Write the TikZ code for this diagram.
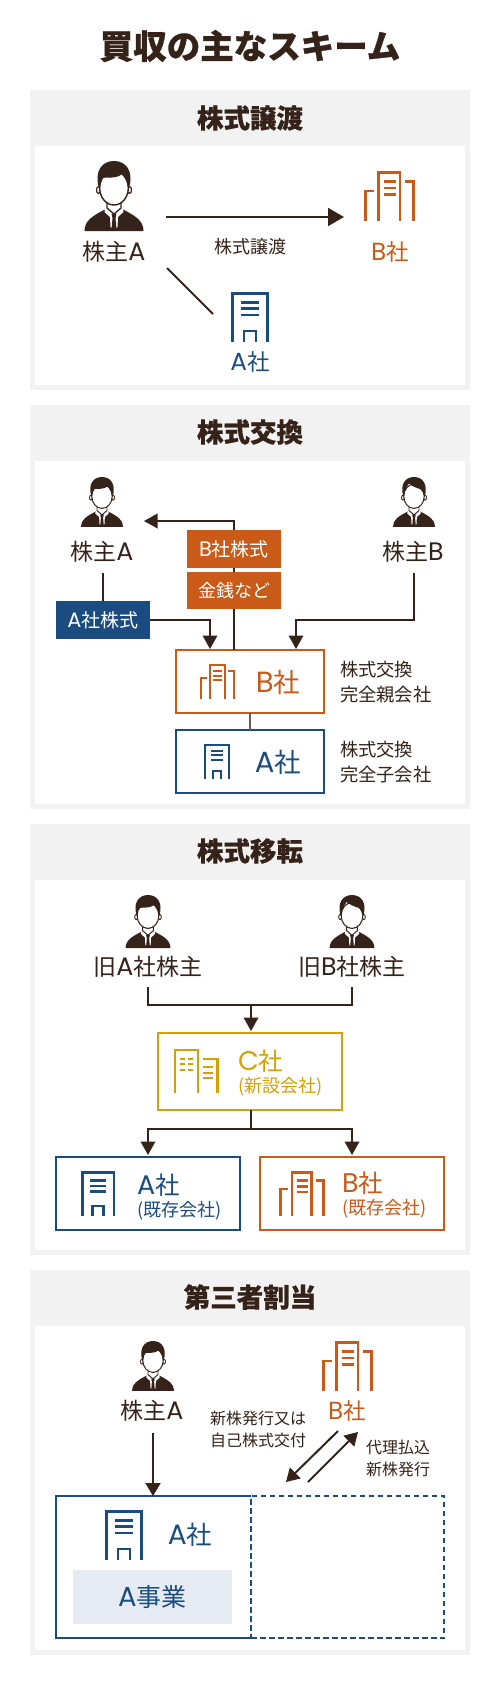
\documentclass[tikz,border=0pt]{standalone}
\usepackage{fontspec}
\setmainfont{Noto Sans CJK JP}
\newfontfamily\latf[Scale=1.1]{Poppins}
\usetikzlibrary{arrows.meta,calc}
\definecolor{ink}{HTML}{35231A}
\definecolor{orangeC}{HTML}{C95A17}
\definecolor{blueC}{HTML}{1B4C80}
\definecolor{goldC}{HTML}{D6A100}
\definecolor{panelG}{HTML}{F2F2F2}
\definecolor{paleB}{HTML}{E6EAF2}
\newcommand\fz[1]{\fontsize{#1}{#1}\selectfont}
\newcommand\hvy{\addfontfeatures{FakeBold=0.5}\bfseries}
\newcommand\hvyT{\addfontfeatures{FakeBold=0.8}\bfseries}
\newcommand\LL[1]{{\latf #1}}
\newcommand\twolines[2]{\fontsize{24.5}{24.5}\selectfont #1\\[3.6pt]\fontsize{18}{18}\selectfont #2}
\tikzset{
  ctxt/.style={inner sep=0pt,outer sep=0pt,text=#1},
  frame/.style={draw=#1,line width=2pt,fill=white,inner sep=0pt,outer sep=0pt},
  chip/.style={fill=#1,text=white,inner sep=0pt,outer sep=0pt},
  conn/.style={draw=ink,line width=2pt},
  bigarrow/.style={conn,-{Triangle[length=16pt,width=18pt]}},
  arrowS/.style={conn,-{Triangle[length=13.5pt,width=14.5pt]}},
  thinarrow/.style={conn,-{Triangle[length=13pt,width=15pt]}},
}
% person icon: x (centre), y (top), scale, hair variant 0/1
\newcommand\personicon[4]{%
\begin{scope}[shift={(#1,#2)},x=#3pt,y=-#3pt]
 \fill[ink] (-29.5,70) .. controls (-29.5,60) and (-22,55) .. (-8,48) -- (8,48) .. controls (22,55) and (29.5,60) .. (29.5,70) -- cycle;
 \fill[white] (-8,44) -- (8,44) -- (9.5,51) -- (4,56) -- (3.5,66) -- (0,68) -- (-3.5,66) -- (-4,56) -- (-9.5,51) -- cycle;
 \fill[ink] (-2.5,52.5) -- (2.5,52.5) -- (1.5,57) -- (2.4,67) -- (0,70) -- (-2.4,67) -- (-1.5,57) -- cycle;
 \draw[ink,line width={1.3pt*#3}] (-7,40) -- (-7,47) -- (0,53) -- (7,47) -- (7,40);
 \draw[ink,fill=white,line width={1.2pt*#3}] (-15.5,29) ellipse[x radius=2,y radius=3.4];
 \draw[ink,fill=white,line width={1.2pt*#3}] (15.5,29) ellipse[x radius=2,y radius=3.4];
 \draw[ink,fill=white,line width={1.4pt*#3}] (0,27) ellipse[x radius=14.3,y radius=17];
 \ifnum#4=0
 \fill[ink] (-15,27) .. controls (-20,10) and (-12,0) .. (0,0) .. controls (12,0) and (20,10) .. (15,27) -- (14,26) .. controls (13,20) and (11,16) .. (8,13) .. controls (3,18) and (-8,16) .. (-11,17) .. controls (-13,19) and (-14,23) .. (-14,26) -- cycle;
 \else
 \fill[ink] (-15,27) .. controls (-20,10) and (-12,0) .. (0,0) .. controls (12,0) and (20,10) .. (15,27) -- (14,26) .. controls (13,22) and (11,19) .. (9,17) .. controls (2,15) and (-4,12) .. (-7,9) .. controls (-10,13) and (-13,19) .. (-14,26) -- cycle;
 \fi
\end{scope}}
% single tower: x,y (top-left), scale, colour
\newcommand\towerA[4]{%
\begin{scope}[shift={(#1,#2)},x=#3pt,y=-#3pt,line width={2.8pt*#3},draw=#4]
 \draw (1.4,50) -- (1.4,1.4) -- (36.6,1.4) -- (36.6,50);
 \draw (10,10.5) -- (28,10.5) (10,16.5) -- (28,16.5) (10,23) -- (28,23);
 \draw (13,50) -- (13,39) -- (25,39) -- (25,50);
\end{scope}}
% three towers
\newcommand\towerB[4]{%
\begin{scope}[shift={(#1,#2)},x=#3pt,y=-#3pt,line width={2.8pt*#3},draw=#4]
 \draw (1.5,50) -- (1.5,20) -- (9.5,20);
 \draw (14.7,50) -- (14.7,1.4) -- (36,1.4) -- (36,50);
 \draw (41,10.5) -- (49.5,10.5) -- (49.5,50);
 \draw (19.5,10.7) -- (32,10.7) (19.5,17) -- (32,17) (19.5,23.3) -- (32,23.3);
\end{scope}}
% two towers with windows
\newcommand\towerC[4]{%
\begin{scope}[shift={(#1,#2)},x=#3pt,y=-#3pt,line width={2.3pt*#3},draw=#4]
 \draw (1.3,44) -- (1.3,1.3) -- (24,1.3) -- (24,44);
 \draw (29,10) -- (43.5,10) -- (43.5,44);
 \foreach \yy in {10,15.3,20.7} {\draw (6,\yy) -- (11,\yy) (14.3,\yy) -- (19.3,\yy);}
 \foreach \yy in {18.3,23.7,29} {\draw (28.7,\yy) -- (39.3,\yy);}
\end{scope}}
\begin{document}
\begin{tikzpicture}[x=1pt,y=-1pt]
\useasboundingbox (0,0) rectangle (500,1690);
\fill[white] (0,0) rectangle (500,1690);
% panels
\fill[panelG] (30,90) rectangle (470,390);
\fill[white] (35,146) rectangle (465,385);
\fill[panelG] (30,405) rectangle (470,809);
\fill[white] (35,461) rectangle (465,804);
\fill[panelG] (30,824) rectangle (470,1255);
\fill[white] (35,880) rectangle (465,1250);
\fill[panelG] (30,1270) rectangle (470,1655);
\fill[white] (35,1326) rectangle (465,1650);
\node[ctxt=ink,font=\fz{33.5}\hvyT] (title) at (250,46) {買収の主なスキーム};
\node[ctxt=ink,font=\fz{26.5}\hvy] (h1) at (250,118) {株式譲渡};
\node[ctxt=ink,font=\fz{26.5}\hvy] (h2) at (250,432) {株式交換};
\node[ctxt=ink,font=\fz{26.5}\hvy] (h3) at (250,851) {株式移転};
\node[ctxt=ink,font=\fz{26.5}\hvy] (h4) at (250,1297) {第三者割当};

% ---- panel 1
\personicon{114}{161}{1}{0}
\node[ctxt=ink,font=\fz{23}] (p1holder) at (114,252) {株主\LL{A}};
\towerB{364}{171}{1}{orangeC}
\node[ctxt=orangeC,font=\fz{22.5}] (p1b) at (390,252) {\LL{B}社};
\towerA{231}{292}{1}{blueC}
\node[ctxt=blueC,font=\fz{22.5}] (p1a) at (250,362) {\LL{A}社};
\node[ctxt=ink,font=\fz{18}] (p1lab) at (250,247) {株式譲渡};
\coordinate (p1s) at (166,217);
\coordinate (p1t) at (344,217);
\coordinate (p1ds) at (167,268);
\coordinate (p1dt) at (213,314);
\draw[bigarrow] (p1s) -- (p1t);
\draw[conn] (p1ds) -- (p1dt);

% ---- panel 2
\personicon{102}{477}{0.714}{0}
\personicon{414}{477}{0.714}{1}
\node[ctxt=ink,font=\fz{23}] (p2ha) at (102,552) {株主\LL{A}};
\node[ctxt=ink,font=\fz{23}] (p2hb) at (413,552) {株主\LL{B}};
\node[chip=orangeC,minimum width=94pt,minimum height=38pt,font=\fz{19}] (p2stock) at (234,549) {\LL{B}社株式};
\node[chip=orangeC,minimum width=94pt,minimum height=37pt,font=\fz{18}] (p2cash) at (234,590.5) {金銭など};
\node[chip=blueC,minimum width=94pt,minimum height=38pt,font=\fz{19}] (p2astock) at (103,620) {\LL{A}社株式};
\node[frame=orangeC,minimum width=148pt,minimum height=63pt] (p2bbox) at (250,681.5) {};
\node[frame=blueC,minimum width=148pt,minimum height=63pt] (p2abox) at (250,761.5) {};
\towerB{200}{664}{0.69}{orangeC}
\towerA{204}{744}{0.69}{blueC}
\node[ctxt=orangeC,font=\fz{26.5}] (p2bt) at (278,682) {\LL{B}社};
\node[ctxt=blueC,font=\fz{26.5}] (p2at) at (278,762) {\LL{A}社};
\node[ctxt=ink,font=\fz{18.3},anchor=west] (p2n1) at (340,670) {株式交換};
\node[ctxt=ink,font=\fz{18.3},anchor=west] (p2n2) at (340,694.5) {完全親会社};
\node[ctxt=ink,font=\fz{18.3},anchor=west] (p2n3) at (340,749.5) {株式交換};
\node[ctxt=ink,font=\fz{18.3},anchor=west] (p2n4) at (340,775) {完全子会社};
\coordinate (p2t1) at (144,521);
\coordinate (p2s2) at (103,573);
\coordinate (p2t2) at (210,649);
\coordinate (p2s3) at (414,573);
\coordinate (p2t3) at (296,649);
\coordinate (p2mid) at (414,620);
\draw[conn] (p2bbox.north -| p2cash.south) -- (p2cash.south);
\draw[conn] (p2cash.north) -- (p2stock.south);
\draw[arrowS] (p2stock.north) |- (p2t1);
\draw[conn] (p2s2) -- (p2astock.north);
\draw[arrowS] (p2astock.east) -| (p2t2);
\draw[arrowS] (p2s3) -- (p2mid) -| (p2t3);
\draw[draw=ink!75,line width=2pt] (p2bbox.south) -- (p2abox.north);

% ---- panel 3
\personicon{148}{895}{0.76}{0}
\personicon{352}{895}{0.76}{1}
\node[ctxt=ink,font=\fz{23}] (p3ha) at (148,967) {旧\LL{A}社株主};
\node[ctxt=ink,font=\fz{23}] (p3hb) at (352,967) {旧\LL{B}社株主};
\node[frame=goldC,minimum width=184pt,minimum height=77pt] (p3c) at (250,1071.5) {};
\node[frame=blueC,minimum width=184pt,minimum height=73pt] (p3a) at (148,1193.5) {};
\node[frame=orangeC,minimum width=184pt,minimum height=73pt] (p3b) at (352,1193.5) {};
\towerC{174}{1049}{1}{goldC}
\towerA{81}{1171}{0.9}{blueC}
\towerB{279}{1171}{0.9}{orangeC}
\node[ctxt=goldC,align=left,anchor=west] (p3ct) at (238,1073) {\twolines{\LL{C}社}{(新設会社)}};
\node[ctxt=blueC,align=left,anchor=west] (p3at) at (137,1197) {\twolines{\LL{A}社}{(既存会社)}};
\node[ctxt=orangeC,align=left,anchor=west] (p3bt) at (342,1195) {\twolines{\LL{B}社}{(既存会社)}};
\coordinate (p3s1) at (148,987);
\coordinate (p3s2) at (352,987);
\coordinate (p3j) at (251,1005);
\coordinate (p3t) at (251,1031);
\coordinate (p3k) at (251,1129);
\coordinate (p3t1) at (148,1155);
\coordinate (p3t2) at (352,1155);
\draw[conn] (p3s1) |- (p3j);
\draw[conn] (p3s2) |- (p3j);
\draw[arrowS] (p3j) -- (p3t);
\draw[conn] (p3c.south -| p3k) -- (p3k);
\draw[arrowS] (p3k) -| (p3t1);
\draw[arrowS] (p3k) -| (p3t2);

% ---- panel 4
\personicon{153}{1341}{0.714}{0}
\node[ctxt=ink,font=\fz{23}] (p4h) at (152,1411) {株主\LL{A}};
\towerB{322}{1341}{1}{orangeC}
\node[ctxt=orangeC,font=\fz{22.5}] (p4b) at (347,1411) {\LL{B}社};
\node[ctxt=ink,font=\fz{16},anchor=west] (p4l1) at (210,1418) {新株発行又は};
\node[ctxt=ink,font=\fz{16},anchor=west] (p4l2) at (210,1440) {自己株式交付};
\node[ctxt=ink,font=\fz{16},anchor=west] (p4r1) at (366,1447) {代理払込};
\node[ctxt=ink,font=\fz{16},anchor=west] (p4r2) at (366,1469) {新株発行};
\node[inner sep=0pt,outer sep=0pt,minimum width=193pt,minimum height=142pt,draw=blueC,line width=2pt,dash pattern=on 5.5pt off 3.5pt] (p4new) at (347.5,1567) {};
\node[inner sep=0pt,outer sep=0pt,minimum width=195pt,minimum height=142pt] (p4old) at (153.5,1567) {};
\draw[blueC,line width=2pt] (p4old.north east) -- (p4old.north west) -- (p4old.south west) -- (p4old.south east);
\towerA{105}{1510}{1}{blueC}
\node[ctxt=blueC,font=\fz{25.5}] (p4at) at (190,1535) {\LL{A}社};
\node[chip=paleB,text=blueC,minimum width=159pt,minimum height=54pt,font=\fz{25}] (p4biz) at (152.5,1597) {\LL{A}事業};
\coordinate (p4s) at (153,1433);
\coordinate (p4t) at (p4s |- p4old.north);
\coordinate (p4d1s) at (338,1431);
\coordinate (p4d1t) at (286,1482);
\coordinate (p4d2s) at (308,1482);
\coordinate (p4d2t) at (358,1432);
\draw[thinarrow] (p4s) -- (p4t);
\draw[thinarrow] (p4d1s) -- (p4d1t);
\draw[thinarrow] (p4d2s) -- (p4d2t);
\end{tikzpicture}
\end{document}
